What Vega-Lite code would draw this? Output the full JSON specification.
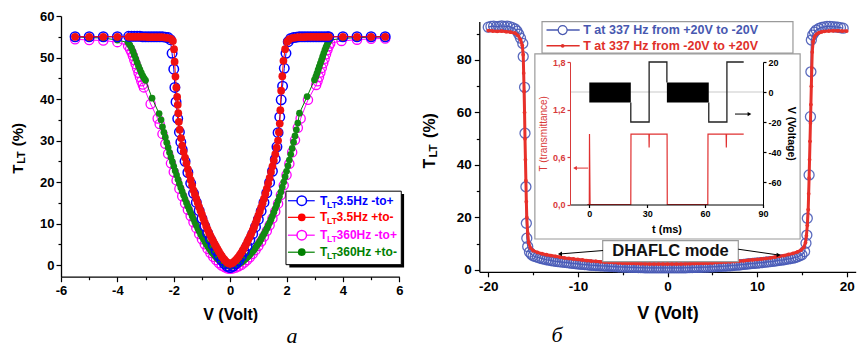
{
"$schema": "https://vega.github.io/schema/vega-lite/v6.json",
"width": 857, "height": 348, "autosize": "none", "padding": 0, "background": "white",
"config": {"view": {"stroke": null},
  "axis": {"grid": false, "labelFont": "Liberation Sans", "labelFontWeight": "bold", "labelColor": "black", "titleFont": "Liberation Sans", "titleFontWeight": "bold", "titleColor": "black", "domainColor": "black", "tickColor": "black", "labelFlush": false, "labelOverlap": false, "labelBound": false, "domainWidth": 1.3, "tickWidth": 1.2},
  "text": {"font": "Liberation Sans"}},
"datasets": {
"lb": [{"x":-5.5,"y":55},{"x":-5,"y":55},{"x":-4.5,"y":55},{"x":-4,"y":55},{"x":-3.6,"y":55.1},{"x":-3.5,"y":55.1},{"x":-3.4,"y":55.1},{"x":-3.3,"y":55.1},{"x":-3.2,"y":55.1},{"x":-3.1,"y":55},{"x":-3,"y":55},{"x":-2.9,"y":55},{"x":-2.8,"y":55},{"x":-2.7,"y":55},{"x":-2.6,"y":55},{"x":-2.5,"y":55},{"x":-2.4,"y":55},{"x":-2.3,"y":54.9},{"x":-2.2,"y":54.8},{"x":-2.12,"y":54.3},{"x":-2.06,"y":51},{"x":-2,"y":47.2},{"x":-1.96,"y":42.8},{"x":-1.92,"y":39.3},{"x":-1.86,"y":35.3},{"x":-1.8,"y":32},{"x":-1.75,"y":29.6},{"x":-1.7,"y":27.8},{"x":-1.6,"y":25},{"x":-1.5,"y":22.3},{"x":-1.4,"y":19.7},{"x":-1.3,"y":17.3},{"x":-1.2,"y":15.1},{"x":-1.1,"y":13.1},{"x":-1,"y":11.2},{"x":-0.9,"y":9.4},{"x":-0.8,"y":7.7},{"x":-0.7,"y":6.2},{"x":-0.6,"y":4.8},{"x":-0.5,"y":3.5},{"x":-0.4,"y":2.3},{"x":-0.3,"y":1.2},{"x":-0.2,"y":0.3},{"x":-0.1,"y":-0.3},{"x":0,"y":-0.6},{"x":0.1,"y":-0.3},{"x":0.2,"y":0.3},{"x":0.3,"y":1.1},{"x":0.4,"y":2.1},{"x":0.5,"y":3.3},{"x":0.6,"y":4.6},{"x":0.7,"y":6},{"x":0.8,"y":7.5},{"x":0.9,"y":9.2},{"x":1,"y":11},{"x":1.1,"y":13},{"x":1.2,"y":15.1},{"x":1.3,"y":17.4},{"x":1.4,"y":19.9},{"x":1.5,"y":22.6},{"x":1.6,"y":25.5},{"x":1.66,"y":28.5},{"x":1.7,"y":31.9},{"x":1.76,"y":35.7},{"x":1.81,"y":39.8},{"x":1.86,"y":43.1},{"x":1.92,"y":47.4},{"x":1.98,"y":51},{"x":2.06,"y":53.8},{"x":2.15,"y":54.6},{"x":2.25,"y":54.8},{"x":2.35,"y":54.9},{"x":2.45,"y":55},{"x":2.55,"y":55},{"x":2.65,"y":55},{"x":2.75,"y":55},{"x":2.85,"y":55},{"x":2.95,"y":55},{"x":3.05,"y":55},{"x":3.15,"y":55},{"x":3.25,"y":55},{"x":3.35,"y":55},{"x":3.45,"y":55},{"x":3.5,"y":55},{"x":4,"y":55},{"x":4.5,"y":55},{"x":5,"y":55},{"x":5.5,"y":55}],
"lr": [{"x":-5.5,"y":55},{"x":-5,"y":55},{"x":-4.5,"y":55},{"x":-4,"y":55},{"x":-3.6,"y":55},{"x":-3.5,"y":55},{"x":-3.4,"y":55},{"x":-3.3,"y":55},{"x":-3.2,"y":55},{"x":-3.1,"y":55},{"x":-3,"y":55},{"x":-2.9,"y":54.9},{"x":-2.8,"y":54.9},{"x":-2.7,"y":54.9},{"x":-2.6,"y":54.9},{"x":-2.5,"y":54.9},{"x":-2.4,"y":54.9},{"x":-2.3,"y":54.8},{"x":-2.2,"y":54.7},{"x":-2.1,"y":54.5},{"x":-2.03,"y":54},{"x":-1.99,"y":52},{"x":-1.97,"y":49},{"x":-1.94,"y":45.4},{"x":-1.91,"y":42.8},{"x":-1.88,"y":40.5},{"x":-1.86,"y":38.6},{"x":-1.84,"y":36.6},{"x":-1.82,"y":34.5},{"x":-1.79,"y":32.6},{"x":-1.74,"y":30.6},{"x":-1.7,"y":28.8},{"x":-1.65,"y":27.3},{"x":-1.6,"y":25.9},{"x":-1.55,"y":24.5},{"x":-1.5,"y":23.1},{"x":-1.45,"y":21.8},{"x":-1.4,"y":20.5},{"x":-1.35,"y":19.2},{"x":-1.3,"y":18},{"x":-1.25,"y":17},{"x":-1.2,"y":16},{"x":-1.15,"y":15},{"x":-1.1,"y":14},{"x":-1.05,"y":13.1},{"x":-1,"y":12.2},{"x":-0.95,"y":11.2},{"x":-0.9,"y":10.3},{"x":-0.85,"y":9.4},{"x":-0.8,"y":8.6},{"x":-0.75,"y":7.8},{"x":-0.7,"y":7.1},{"x":-0.65,"y":6.4},{"x":-0.6,"y":5.8},{"x":-0.55,"y":5.1},{"x":-0.5,"y":4.5},{"x":-0.45,"y":3.9},{"x":-0.4,"y":3.3},{"x":-0.35,"y":2.7},{"x":-0.3,"y":2.2},{"x":-0.25,"y":1.7},{"x":-0.2,"y":1.3},{"x":-0.15,"y":0.9},{"x":-0.1,"y":0.6},{"x":-0.05,"y":0.4},{"x":0,"y":0.3},{"x":0.05,"y":0.4},{"x":0.1,"y":0.6},{"x":0.15,"y":0.9},{"x":0.2,"y":1.2},{"x":0.25,"y":1.6},{"x":0.3,"y":2},{"x":0.35,"y":2.5},{"x":0.4,"y":3},{"x":0.45,"y":3.6},{"x":0.5,"y":4.2},{"x":0.55,"y":4.8},{"x":0.6,"y":5.5},{"x":0.65,"y":6.2},{"x":0.7,"y":6.9},{"x":0.75,"y":7.6},{"x":0.8,"y":8.4},{"x":0.85,"y":9.2},{"x":0.9,"y":10.1},{"x":0.95,"y":11},{"x":1,"y":12},{"x":1.05,"y":12.9},{"x":1.1,"y":13.9},{"x":1.15,"y":14.9},{"x":1.2,"y":16},{"x":1.25,"y":17.2},{"x":1.3,"y":18.4},{"x":1.35,"y":19.7},{"x":1.4,"y":21},{"x":1.45,"y":22.4},{"x":1.5,"y":23.8},{"x":1.55,"y":25.2},{"x":1.6,"y":26.7},{"x":1.65,"y":28.3},{"x":1.7,"y":30},{"x":1.73,"y":32},{"x":1.76,"y":34.1},{"x":1.78,"y":37.3},{"x":1.81,"y":42},{"x":1.85,"y":45.5},{"x":1.89,"y":49.2},{"x":1.95,"y":52},{"x":2.02,"y":53.8},{"x":2.1,"y":54.4},{"x":2.2,"y":54.7},{"x":2.3,"y":54.8},{"x":2.4,"y":54.9},{"x":2.5,"y":54.9},{"x":2.6,"y":54.9},{"x":2.7,"y":55},{"x":2.8,"y":55},{"x":2.9,"y":55},{"x":3,"y":55},{"x":3.1,"y":55},{"x":3.2,"y":55},{"x":3.3,"y":55},{"x":3.4,"y":55},{"x":3.5,"y":55},{"x":4,"y":55},{"x":4.5,"y":55},{"x":5,"y":55},{"x":5.5,"y":55}],
"lg": [{"x":-5.5,"y":55},{"x":-5,"y":54.8},{"x":-4.5,"y":54.7},{"x":-4,"y":54.2},{"x":-3.62,"y":53.6},{"x":-3.56,"y":53},{"x":-3.5,"y":52.3},{"x":-3.45,"y":51.5},{"x":-3.4,"y":50.6},{"x":-3.35,"y":49.7},{"x":-3.3,"y":48.8},{"x":-3.25,"y":47.9},{"x":-3.2,"y":47.1},{"x":-3.15,"y":46.3},{"x":-3.1,"y":45.6},{"x":-3.05,"y":45},{"x":-3,"y":44.5},{"x":-2.77,"y":40.2},{"x":-2.52,"y":36.5},{"x":-2.45,"y":35},{"x":-2.4,"y":33.3},{"x":-2.35,"y":32},{"x":-2.3,"y":30.8},{"x":-2.25,"y":29.5},{"x":-2.2,"y":28.3},{"x":-2.15,"y":27.1},{"x":-2.1,"y":26},{"x":-2.05,"y":24.9},{"x":-2,"y":23.8},{"x":-1.95,"y":22.7},{"x":-1.9,"y":21.7},{"x":-1.85,"y":20.6},{"x":-1.8,"y":19.6},{"x":-1.75,"y":18.6},{"x":-1.7,"y":17.7},{"x":-1.65,"y":16.8},{"x":-1.6,"y":15.9},{"x":-1.55,"y":15},{"x":-1.5,"y":14.2},{"x":-1.45,"y":13.4},{"x":-1.4,"y":12.6},{"x":-1.35,"y":11.8},{"x":-1.3,"y":11.1},{"x":-1.25,"y":10.3},{"x":-1.2,"y":9.6},{"x":-1.15,"y":8.9},{"x":-1.1,"y":8.2},{"x":-1.05,"y":7.5},{"x":-1,"y":6.9},{"x":-0.95,"y":6.3},{"x":-0.9,"y":5.7},{"x":-0.85,"y":5.1},{"x":-0.8,"y":4.6},{"x":-0.75,"y":4.1},{"x":-0.7,"y":3.6},{"x":-0.65,"y":3.1},{"x":-0.6,"y":2.7},{"x":-0.55,"y":2.3},{"x":-0.5,"y":1.9},{"x":-0.45,"y":1.5},{"x":-0.4,"y":1.2},{"x":-0.35,"y":0.9},{"x":-0.3,"y":0.6},{"x":-0.25,"y":0.4},{"x":-0.2,"y":0.2},{"x":-0.15,"y":0},{"x":-0.1,"y":-0.1},{"x":-0.05,"y":-0.2},{"x":0,"y":-0.2},{"x":0.05,"y":-0.2},{"x":0.1,"y":-0.2},{"x":0.15,"y":-0.1},{"x":0.2,"y":0},{"x":0.25,"y":0.1},{"x":0.3,"y":0.3},{"x":0.35,"y":0.5},{"x":0.4,"y":0.7},{"x":0.45,"y":0.9},{"x":0.5,"y":1.2},{"x":0.55,"y":1.5},{"x":0.6,"y":1.8},{"x":0.65,"y":2.1},{"x":0.7,"y":2.5},{"x":0.75,"y":2.9},{"x":0.8,"y":3.3},{"x":0.85,"y":3.7},{"x":0.9,"y":4.2},{"x":0.95,"y":4.7},{"x":1,"y":5.2},{"x":1.05,"y":5.7},{"x":1.1,"y":6.3},{"x":1.15,"y":6.9},{"x":1.2,"y":7.5},{"x":1.25,"y":8.1},{"x":1.3,"y":8.8},{"x":1.35,"y":9.5},{"x":1.4,"y":10.2},{"x":1.45,"y":11},{"x":1.5,"y":11.8},{"x":1.55,"y":12.7},{"x":1.6,"y":13.6},{"x":1.65,"y":14.5},{"x":1.7,"y":15.5},{"x":1.75,"y":16.5},{"x":1.8,"y":17.6},{"x":1.85,"y":18.8},{"x":1.9,"y":20},{"x":1.95,"y":21.3},{"x":2,"y":22.6},{"x":2.05,"y":23.9},{"x":2.1,"y":25.3},{"x":2.15,"y":26.7},{"x":2.2,"y":28.1},{"x":2.25,"y":29.6},{"x":2.3,"y":31.1},{"x":2.35,"y":32.6},{"x":2.4,"y":34.2},{"x":2.46,"y":36.6},{"x":2.73,"y":40.6},{"x":2.99,"y":44.6},{"x":3.04,"y":45.4},{"x":3.08,"y":46.2},{"x":3.12,"y":47},{"x":3.16,"y":47.8},{"x":3.2,"y":48.6},{"x":3.24,"y":49.4},{"x":3.28,"y":50.2},{"x":3.32,"y":51},{"x":3.36,"y":51.8},{"x":3.4,"y":52.5},{"x":3.44,"y":53.1},{"x":3.48,"y":53.7},{"x":3.53,"y":54.2},{"x":4,"y":54.6},{"x":4.5,"y":54.8},{"x":5,"y":54.9},{"x":5.5,"y":55}],
"lm": [{"x":-5.5,"y":54.4},{"x":-5,"y":54.2},{"x":-4.5,"y":54.1},{"x":-4,"y":53.7},{"x":-3.62,"y":52.8},{"x":-3.55,"y":52},{"x":-3.5,"y":51.3},{"x":-3.45,"y":50.4},{"x":-3.4,"y":49.4},{"x":-3.35,"y":48.4},{"x":-3.3,"y":47.4},{"x":-3.25,"y":46.3},{"x":-3.2,"y":45.3},{"x":-3.15,"y":44.3},{"x":-3.1,"y":43.5},{"x":-3.06,"y":42.8},{"x":-2.82,"y":38.8},{"x":-2.57,"y":35.3},{"x":-2.5,"y":34},{"x":-2.4,"y":31.6},{"x":-2.3,"y":29.2},{"x":-2.2,"y":26.8},{"x":-2.1,"y":24.5},{"x":-2,"y":22.4},{"x":-1.9,"y":20.4},{"x":-1.8,"y":18.4},{"x":-1.7,"y":16.6},{"x":-1.6,"y":14.9},{"x":-1.5,"y":13.3},{"x":-1.4,"y":11.8},{"x":-1.3,"y":10.3},{"x":-1.2,"y":8.9},{"x":-1.1,"y":7.5},{"x":-1,"y":6.2},{"x":-0.9,"y":5},{"x":-0.8,"y":3.9},{"x":-0.7,"y":2.9},{"x":-0.6,"y":2},{"x":-0.5,"y":1.2},{"x":-0.4,"y":0.5},{"x":-0.3,"y":-0.1},{"x":-0.2,"y":-0.5},{"x":-0.1,"y":-0.8},{"x":0,"y":-0.9},{"x":0.1,"y":-0.8},{"x":0.2,"y":-0.6},{"x":0.3,"y":-0.3},{"x":0.4,"y":0.1},{"x":0.5,"y":0.6},{"x":0.6,"y":1.2},{"x":0.7,"y":1.9},{"x":0.8,"y":2.7},{"x":0.9,"y":3.6},{"x":1,"y":4.6},{"x":1.1,"y":5.7},{"x":1.2,"y":6.9},{"x":1.3,"y":8.2},{"x":1.4,"y":9.6},{"x":1.5,"y":11.2},{"x":1.6,"y":12.9},{"x":1.7,"y":14.8},{"x":1.8,"y":16.9},{"x":1.9,"y":19.2},{"x":2,"y":21.7},{"x":2.1,"y":24.4},{"x":2.2,"y":27.2},{"x":2.3,"y":30.1},{"x":2.4,"y":33.1},{"x":2.5,"y":35.3},{"x":2.76,"y":39.8},{"x":3.05,"y":43.4},{"x":3.1,"y":44.3},{"x":3.15,"y":45.3},{"x":3.2,"y":46.4},{"x":3.25,"y":47.5},{"x":3.3,"y":48.6},{"x":3.35,"y":49.7},{"x":3.4,"y":50.8},{"x":3.45,"y":51.8},{"x":3.5,"y":52.7},{"x":3.55,"y":53.4},{"x":3.95,"y":54},{"x":4.5,"y":54.3},{"x":5,"y":54.5},{"x":5.5,"y":54.6}],
"rb": [{"x":-20,"y":92.5},{"x":-19.7,"y":92.8},{"x":-19.4,"y":92.9},{"x":-19.1,"y":92.7},{"x":-18.8,"y":92.8},{"x":-18.5,"y":93},{"x":-18.2,"y":92.8},{"x":-17.9,"y":92.9},{"x":-17.6,"y":92.7},{"x":-17.3,"y":92.3},{"x":-17,"y":91.8},{"x":-16.8,"y":91},{"x":-16.6,"y":89.8},{"x":-16.4,"y":88.3},{"x":-16.15,"y":86.3},{"x":-16.1,"y":81.3},{"x":-15.95,"y":69.6},{"x":-15.9,"y":52.1},{"x":-15.8,"y":31.7},{"x":-15.75,"y":17.8},{"x":-15.7,"y":12.1},{"x":-15.6,"y":8.9},{"x":-15.4,"y":6.8},{"x":-15.2,"y":6},{"x":-15,"y":5.4},{"x":-14.75,"y":5.1},{"x":-14.5,"y":4.8},{"x":-14.25,"y":4.55},{"x":-14,"y":4.3},{"x":-13.75,"y":4.1},{"x":-13.5,"y":3.9},{"x":-13.25,"y":3.75},{"x":-13,"y":3.6},{"x":-12.75,"y":3.45},{"x":-12.5,"y":3.3},{"x":-12.25,"y":3.2},{"x":-12,"y":3.1},{"x":-11.75,"y":3},{"x":-11.5,"y":2.9},{"x":-11.25,"y":2.8},{"x":-11,"y":2.7},{"x":-10.75,"y":2.6},{"x":-10.5,"y":2.5},{"x":-10.25,"y":2.4},{"x":-10,"y":2.3},{"x":-9.75,"y":2.2},{"x":-9.5,"y":2.1},{"x":-9.25,"y":2.05},{"x":-9,"y":2},{"x":-8.75,"y":1.9},{"x":-8.5,"y":1.8},{"x":-8.25,"y":1.75},{"x":-8,"y":1.7},{"x":-7.75,"y":1.65},{"x":-7.5,"y":1.6},{"x":-7.25,"y":1.55},{"x":-7,"y":1.5},{"x":-6.75,"y":1.45},{"x":-6.5,"y":1.4},{"x":-6.25,"y":1.35},{"x":-6,"y":1.3},{"x":-5.75,"y":1.25},{"x":-5.5,"y":1.2},{"x":-5.25,"y":1.15},{"x":-5,"y":1.1},{"x":-4.75,"y":1.08},{"x":-4.5,"y":1.05},{"x":-4.25,"y":1.02},{"x":-4,"y":1},{"x":-3.75,"y":0.97},{"x":-3.5,"y":0.95},{"x":-3.25,"y":0.92},{"x":-3,"y":0.9},{"x":-2.75,"y":0.87},{"x":-2.5,"y":0.85},{"x":-2.25,"y":0.82},{"x":-2,"y":0.8},{"x":-1.75,"y":0.8},{"x":-1.5,"y":0.8},{"x":-1.25,"y":0.8},{"x":-1,"y":0.8},{"x":-0.75,"y":0.8},{"x":-0.5,"y":0.8},{"x":-0.25,"y":0.8},{"x":0,"y":0.8},{"x":0.25,"y":0.8},{"x":0.5,"y":0.8},{"x":0.75,"y":0.8},{"x":1,"y":0.8},{"x":1.25,"y":0.8},{"x":1.5,"y":0.8},{"x":1.75,"y":0.82},{"x":2,"y":0.85},{"x":2.25,"y":0.87},{"x":2.5,"y":0.9},{"x":2.75,"y":0.92},{"x":3,"y":0.95},{"x":3.25,"y":0.97},{"x":3.5,"y":1},{"x":3.75,"y":1.02},{"x":4,"y":1.05},{"x":4.25,"y":1.08},{"x":4.5,"y":1.1},{"x":4.75,"y":1.15},{"x":5,"y":1.2},{"x":5.25,"y":1.25},{"x":5.5,"y":1.3},{"x":5.75,"y":1.35},{"x":6,"y":1.4},{"x":6.25,"y":1.45},{"x":6.5,"y":1.5},{"x":6.75,"y":1.55},{"x":7,"y":1.6},{"x":7.25,"y":1.7},{"x":7.5,"y":1.8},{"x":7.75,"y":1.85},{"x":8,"y":1.9},{"x":8.25,"y":2},{"x":8.5,"y":2.1},{"x":8.75,"y":2.2},{"x":9,"y":2.3},{"x":9.25,"y":2.4},{"x":9.5,"y":2.5},{"x":9.75,"y":2.55},{"x":10,"y":2.6},{"x":10.25,"y":2.7},{"x":10.5,"y":2.8},{"x":10.75,"y":2.9},{"x":11,"y":3},{"x":11.25,"y":3.1},{"x":11.5,"y":3.2},{"x":11.75,"y":3.3},{"x":12,"y":3.4},{"x":12.25,"y":3.55},{"x":12.5,"y":3.7},{"x":12.75,"y":3.8},{"x":13,"y":3.9},{"x":13.25,"y":4.05},{"x":13.5,"y":4.2},{"x":13.75,"y":4.35},{"x":14,"y":4.5},{"x":14.25,"y":4.75},{"x":14.5,"y":5},{"x":14.75,"y":5.4},{"x":15,"y":5.8},{"x":15.3,"y":7},{"x":15.45,"y":10.2},{"x":15.55,"y":13.3},{"x":15.6,"y":19.7},{"x":15.8,"y":36.2},{"x":15.95,"y":58.4},{"x":16,"y":75.5},{"x":16.05,"y":87.6},{"x":16.2,"y":89.5},{"x":16.4,"y":90.6},{"x":16.6,"y":91.4},{"x":16.9,"y":92},{"x":17.2,"y":92.4},{"x":17.5,"y":92.6},{"x":17.8,"y":92.8},{"x":18.1,"y":92.8},{"x":18.4,"y":92.7},{"x":18.7,"y":92.6},{"x":19,"y":92.5},{"x":19.3,"y":92.3},{"x":19.6,"y":92.1}],
"rr": [{"x":-20,"y":91.2},{"x":-19.5,"y":91},{"x":-19,"y":90.9},{"x":-18.5,"y":91},{"x":-18,"y":90.8},{"x":-17.5,"y":90.6},{"x":-17,"y":90.2},{"x":-16.7,"y":89.4},{"x":-16.4,"y":87.8},{"x":-16.2,"y":85.5},{"x":-16.1,"y":82},{"x":-16.05,"y":75},{"x":-16,"y":68},{"x":-15.95,"y":60},{"x":-15.9,"y":50},{"x":-15.85,"y":42},{"x":-15.8,"y":34},{"x":-15.75,"y":26},{"x":-15.7,"y":20},{"x":-15.6,"y":14},{"x":-15.5,"y":10.5},{"x":-15.3,"y":8.4},{"x":-15,"y":7.4},{"x":-14.5,"y":6.7},{"x":-14,"y":6.2},{"x":-13.5,"y":5.8},{"x":-13,"y":5.5},{"x":-12.5,"y":5.2},{"x":-12,"y":4.9},{"x":-11.5,"y":4.6},{"x":-11,"y":4.4},{"x":-10.5,"y":4.2},{"x":-10,"y":4},{"x":-9.5,"y":3.8},{"x":-9,"y":3.6},{"x":-8.5,"y":3.4},{"x":-8,"y":3.3},{"x":-7.5,"y":3.1},{"x":-7,"y":3},{"x":-6.5,"y":2.9},{"x":-6,"y":2.8},{"x":-5.5,"y":2.7},{"x":-5,"y":2.6},{"x":-4.5,"y":2.55},{"x":-4,"y":2.5},{"x":-3.5,"y":2.45},{"x":-3,"y":2.4},{"x":-2.5,"y":2.35},{"x":-2,"y":2.3},{"x":-1.5,"y":2.3},{"x":-1,"y":2.3},{"x":-0.5,"y":2.3},{"x":0,"y":2.3},{"x":0.5,"y":2.3},{"x":1,"y":2.3},{"x":1.5,"y":2.3},{"x":2,"y":2.35},{"x":2.5,"y":2.4},{"x":3,"y":2.45},{"x":3.5,"y":2.5},{"x":4,"y":2.55},{"x":4.5,"y":2.6},{"x":5,"y":2.7},{"x":5.5,"y":2.8},{"x":6,"y":2.9},{"x":6.5,"y":3},{"x":7,"y":3.1},{"x":7.5,"y":3.2},{"x":8,"y":3.4},{"x":8.5,"y":3.5},{"x":9,"y":3.7},{"x":9.5,"y":3.85},{"x":10,"y":4},{"x":10.5,"y":4.2},{"x":11,"y":4.4},{"x":11.5,"y":4.6},{"x":12,"y":4.9},{"x":12.5,"y":5.2},{"x":13,"y":5.5},{"x":13.5,"y":5.9},{"x":14,"y":6.3},{"x":14.5,"y":6.9},{"x":14.9,"y":7.6},{"x":15.2,"y":8.6},{"x":15.4,"y":10.5},{"x":15.5,"y":13},{"x":15.6,"y":17},{"x":15.7,"y":23},{"x":15.75,"y":29},{"x":15.8,"y":35},{"x":15.85,"y":42},{"x":15.9,"y":49},{"x":15.95,"y":56},{"x":16,"y":63},{"x":16.05,"y":70},{"x":16.1,"y":77},{"x":16.15,"y":83},{"x":16.25,"y":87},{"x":16.4,"y":88.8},{"x":16.6,"y":89.8},{"x":16.9,"y":90.4},{"x":17.2,"y":90.7},{"x":17.5,"y":90.9},{"x":18,"y":91},{"x":18.5,"y":91.1},{"x":19,"y":91.1},{"x":19.5,"y":91},{"x":20,"y":91}],
"legA_box": [{"x":1.98,"x2":6.07,"y":0.1,"y2":17.8}],
"legA_shadow": [{"x":2.1,"x2":6.17,"y":-0.6,"y2":17.1}],
"legA_line": [{"s":"b","x":2.05,"x2":3.0,"y":15.5},{"s":"r","x":2.05,"x2":3.0,"y":11.5},{"s":"m","x":2.05,"x2":3.0,"y":7.2},{"s":"g","x":2.05,"x2":3.0,"y":3.1}],
"legA_sym": [{"s":"b","x":2.54,"y":15.5},{"s":"r","x":2.54,"y":11.5},{"s":"m","x":2.54,"y":7.2},{"s":"g","x":2.54,"y":3.1}],
"legA_txt": [{"s":"b","x":3.19,"y":15.5,"lab":"3.5Hz -to+"},{"s":"r","x":3.19,"y":11.5,"lab":"3.5Hz +to-"},{"s":"m","x":3.19,"y":7.2,"lab":"360Hz -to+"},{"s":"g","x":3.19,"y":3.1,"lab":"360Hz +to-"}],
"ttlA_big": [{"x":-7.52,"y":22.0,"lab":"T"},{"x":-7.52,"y":28.6,"lab":"(%)"}],
"ttlA_sub": [{"x":-7.39,"y":24.4,"lab":"LT"}],
"tagA": [{"x":2.19,"y":-19.9,"lab":"a"}],
"boxB": [{"x":-14.0,"x2":14.0,"y":82.6,"y2":94.6},{"x":-14.8,"x2":14.8,"y":11.8,"y2":82.3},{"x":-7.23,"x2":7.9,"y":3.2,"y2":11.2}],
"legB_line": [{"s":"B","x":-13.5,"x2":-9.8,"y":91.4},{"s":"R","x":-13.5,"x2":-9.8,"y":85.4}],
"legB_symB": [{"x":-11.7,"y":91.4}],
"legB_symR": [{"x":-11.7,"y":85.4}],
"legB_txt": [{"s":"B","x":-9.4,"y":91.4,"lab":"T at 337 Hz from +20V to -20V"},{"s":"R","x":-9.4,"y":85.4,"lab":"T at 337 Hz from -20V to +20V"}],
"modeB": [{"x":0.33,"y":7.2,"lab":"DHAFLC mode"}],
"arrB": [{"x":-7.2,"x2":-12.0,"y":7.4,"y2":6.1},{"x":7.9,"x2":12.4,"y":7.9,"y2":5.7}],
"headB": [{"x":-12.0,"y":6.1,"d":"l"},{"x":12.4,"y":5.7,"d":"r"}],
"ttlB_big": [{"x":-26.5,"y":38.7,"lab":"T"},{"x":-26.5,"y":50.3,"lab":"(%)"}],
"ttlB_sub": [{"x":-26.06,"y":42.8,"lab":"LT"}],
"tagB": [{"x":-12.33,"y":-29.5,"lab":"б"}],
"iv_block": [{"x":0,"x2":21.5,"y":-7,"y2":6.3},{"x":40.2,"x2":61.9,"y":-7,"y2":6.3}],
"iv_zero": [{"x":-10,"x2":90,"y":0}],
"iv_line": [{"g":1,"x":21.5,"y":-7},{"g":1,"x":21.5,"y":-20},{"g":1,"x":31,"y":-20},{"g":1,"x":31,"y":20},{"g":1,"x":40.2,"y":20},{"g":1,"x":40.2,"y":6.3},{"g":2,"x":61.9,"y":-7},{"g":2,"x":61.9,"y":-20},{"g":2,"x":71.3,"y":-20},{"g":2,"x":71.3,"y":20},{"g":2,"x":80,"y":20}],
"iv_arr": [{"x":75.5,"x2":83,"y":-14.7}],
"iv_head": [{"x":83,"y":-14.7,"d":"r"}],
"it_line": [{"x":-1,"y":0},{"x":0,"y":0},{"x":0.1,"y":0.89},{"x":0.4,"y":0},{"x":21.5,"y":0},{"x":21.6,"y":0.89},{"x":30.9,"y":0.89},{"x":31,"y":0.72},{"x":31.1,"y":0.89},{"x":40.3,"y":0.89},{"x":40.4,"y":0},{"x":61.4,"y":0},{"x":61.5,"y":0.89},{"x":70.9,"y":0.89},{"x":71,"y":0.72},{"x":71.1,"y":0.89},{"x":80,"y":0.89}],
"it_arr": [{"x":-0.6,"x2":-7.4,"y":0.46}],
"it_head": [{"x":-7.4,"y":0.46,"d":"l"}]
},
"layer": [
{
"encoding": {
 "x": {"field": "x", "type": "quantitative", "scale": {"domain": [-6, 6], "range": [61, 399.3], "nice": false, "zero": false},
   "axis": {"orient": "bottom", "offset": -71.3, "values": [-6,-5,-4,-3,-2,-1,0,1,2,3,4,5,6], "labelExpr": "datum.value % 2 === 0 ? '' + datum.value : ''", "tickSize": {"condition": {"test": "datum.value % 2 === 0", "value": 5}, "value": 3}, "title": "V (Volt)", "titleFontSize": 16, "labelFontSize": 13, "labelPadding": 3, "titlePadding": 9}},
 "y": {"field": "y", "type": "quantitative", "scale": {"domain": [-2.8, 60], "range": [276.7, 16], "nice": false, "zero": false},
   "axis": {"orient": "left", "offset": -61, "values": [0,5,10,15,20,25,30,35,40,45,50,55,60], "labelExpr": "datum.value % 10 === 0 ? '' + datum.value : ''", "tickSize": {"condition": {"test": "datum.value % 10 === 0", "value": 5}, "value": 3}, "title": null, "labelFontSize": 13, "labelPadding": 2}}
},
"layer": [
 {"data": {"name": "lm"}, "mark": {"type": "line", "color": "#ff00ff", "strokeWidth": 1}, "encoding": {"order": {"value": null}}},
 {"data": {"name": "lm"}, "mark": {"type": "point", "shape": "circle", "filled": false, "color": "#ff00ff", "size": 85, "strokeWidth": 1.3, "opacity": 1}},
 {"data": {"name": "lg"}, "mark": {"type": "line", "color": "#008000", "strokeWidth": 1}, "encoding": {"order": {"value": null}}},
 {"data": {"name": "lg"}, "mark": {"type": "point", "shape": "circle", "filled": true, "color": "#138a13", "size": 45, "opacity": 1}},
 {"data": {"name": "lb"}, "mark": {"type": "line", "color": "#0000ff", "strokeWidth": 1}, "encoding": {"order": {"value": null}}},
 {"data": {"name": "lb"}, "mark": {"type": "point", "shape": "circle", "filled": false, "color": "#0000ff", "size": 90, "strokeWidth": 1.5, "opacity": 1}},
 {"data": {"name": "lr"}, "mark": {"type": "line", "color": "#ff0000", "strokeWidth": 1}, "encoding": {"order": {"value": null}}},
 {"data": {"name": "lr"}, "mark": {"type": "point", "shape": "circle", "filled": true, "color": "#f01010", "size": 60, "opacity": 1}},
 {"data": {"name": "legA_shadow"}, "mark": {"type": "rect", "color": "black"}, "encoding": {"x2": {"field": "x2"}, "y2": {"field": "y2"}}},
 {"data": {"name": "legA_box"}, "mark": {"type": "rect", "fill": "white", "stroke": "black", "strokeWidth": 1}, "encoding": {"x2": {"field": "x2"}, "y2": {"field": "y2"}}},
 {"data": {"name": "legA_line"}, "mark": {"type": "rule", "strokeWidth": 1.2}, "encoding": {"x2": {"field": "x2"}, "color": {"field": "s", "type": "nominal", "scale": {"domain": ["b","r","m","g","B","R"], "range": ["#0000ff","#ff0000","#ff00ff","#008000","#4858b0","#e0302a"]}, "legend": null}}},
 {"data": {"name": "legA_sym"}, "transform": [{"filter": "datum.s === 'b' || datum.s === 'm'"}], "mark": {"type": "point", "shape": "circle", "filled": false, "fill": "white", "fillOpacity": 1, "size": 90, "strokeWidth": 1.5, "opacity": 1}, "encoding": {"stroke": {"field": "s", "type": "nominal", "scale": {"domain": ["b","r","m","g","B","R"], "range": ["#0000ff","#ff0000","#ff00ff","#008000","#4858b0","#e0302a"]}, "legend": null}}},
 {"data": {"name": "legA_sym"}, "transform": [{"filter": "datum.s === 'r' || datum.s === 'g'"}], "mark": {"type": "point", "shape": "circle", "filled": true, "size": 60, "opacity": 1}, "encoding": {"color": {"field": "s", "type": "nominal", "scale": {"domain": ["b","r","m","g","B","R"], "range": ["#0000ff","#ff0000","#ff00ff","#008000","#4858b0","#e0302a"]}, "legend": null}}},
 {"data": {"name": "legA_txt"}, "mark": {"type": "text", "text": "T", "align": "left", "baseline": "middle", "fontSize": 12, "fontWeight": "bold"}, "encoding": {"color": {"field": "s", "type": "nominal", "scale": {"domain": ["b","r","m","g","B","R"], "range": ["#0000ff","#ff0000","#ff00ff","#008000","#4858b0","#e0302a"]}, "legend": null}}},
 {"data": {"name": "legA_txt"}, "mark": {"type": "text", "text": "LT", "align": "left", "baseline": "middle", "fontSize": 8.5, "fontWeight": "bold", "dx": 7, "dy": 4}, "encoding": {"color": {"field": "s", "type": "nominal", "scale": {"domain": ["b","r","m","g","B","R"], "range": ["#0000ff","#ff0000","#ff00ff","#008000","#4858b0","#e0302a"]}, "legend": null}}},
 {"data": {"name": "legA_txt"}, "mark": {"type": "text", "align": "left", "baseline": "middle", "fontSize": 12, "fontWeight": "bold", "dx": 16.5}, "encoding": {"text": {"field": "lab"}, "color": {"field": "s", "type": "nominal", "scale": {"domain": ["b","r","m","g","B","R"], "range": ["#0000ff","#ff0000","#ff00ff","#008000","#4858b0","#e0302a"]}, "legend": null}}},
 {"data": {"name": "ttlA_big"}, "mark": {"type": "text", "angle": 270, "align": "left", "baseline": "middle", "fontSize": 15, "fontWeight": "bold", "color": "black"}, "encoding": {"text": {"field": "lab"}}},
 {"data": {"name": "ttlA_sub"}, "mark": {"type": "text", "angle": 270, "align": "left", "baseline": "middle", "fontSize": 11, "fontWeight": "bold", "color": "black"}, "encoding": {"text": {"field": "lab"}}},
 {"data": {"name": "tagA"}, "mark": {"type": "text", "align": "center", "baseline": "bottom", "fontSize": 22, "font": "Liberation Serif", "fontStyle": "italic", "color": "black"}, "encoding": {"text": {"field": "lab"}}}
]
},
{
"encoding": {
 "x": {"field": "x", "type": "quantitative", "scale": {"domain": [-21, 21], "range": [479.3, 855.7], "nice": false, "zero": false},
   "axis": {"orient": "bottom", "offset": -76.2, "values": [-20,-15,-10,-5,0,5,10,15,20], "labelExpr": "datum.value % 10 === 0 ? '' + datum.value : ''", "tickSize": {"condition": {"test": "datum.value % 10 === 0", "value": 5}, "value": 3}, "title": "V (Volt)", "titleFontSize": 18, "labelFontSize": 13.5, "labelPadding": 3, "titlePadding": 11}},
 "y": {"field": "y", "type": "quantitative", "scale": {"domain": [-0.7, 94.7], "range": [271.8, 21.4], "nice": false, "zero": false},
   "axis": {"orient": "left", "offset": -479.3, "values": [0,10,20,30,40,50,60,70,80,90], "labelExpr": "datum.value % 20 === 0 ? '' + datum.value : ''", "tickSize": {"condition": {"test": "datum.value % 20 === 0", "value": 5}, "value": 3}, "title": null, "labelFontSize": 13.5, "labelPadding": 3}}
},
"layer": [
 {"data": {"name": "rb"}, "mark": {"type": "line", "color": "#4a5cb8", "strokeWidth": 1.2}, "encoding": {"order": {"value": null}}},
 {"data": {"name": "rb"}, "mark": {"type": "point", "shape": "circle", "filled": false, "color": "#4a5cb8", "size": 100, "strokeWidth": 1.3, "opacity": 0.9}},
 {"data": {"name": "rr"}, "mark": {"type": "line", "color": "#e8302a", "strokeWidth": 3}, "encoding": {"order": {"value": null}}},
 {"data": {"name": "rr"}, "mark": {"type": "point", "shape": "circle", "filled": true, "color": "#e8302a", "size": 14, "opacity": 1}},
 {"data": {"name": "boxB"}, "mark": {"type": "rect", "fill": "white", "stroke": "#9a9a9a", "strokeWidth": 1.2}, "encoding": {"x2": {"field": "x2"}, "y2": {"field": "y2"}}},
 {"data": {"name": "legB_line"}, "mark": {"type": "rule", "strokeWidth": 1.5}, "encoding": {"x2": {"field": "x2"}, "color": {"field": "s", "type": "nominal", "scale": {"domain": ["b","r","m","g","B","R"], "range": ["#0000ff","#ff0000","#ff00ff","#008000","#4858b0","#e0302a"]}, "legend": null}}},
 {"data": {"name": "legB_symB"}, "mark": {"type": "point", "shape": "circle", "filled": false, "fill": "white", "fillOpacity": 1, "stroke": "#4858b0", "size": 80, "strokeWidth": 1.2, "opacity": 1}},
 {"data": {"name": "legB_symR"}, "mark": {"type": "point", "shape": "circle", "filled": true, "color": "#e0302a", "size": 14, "opacity": 1}},
 {"data": {"name": "legB_txt"}, "mark": {"type": "text", "align": "left", "baseline": "middle", "fontSize": 12.5, "fontWeight": "bold"}, "encoding": {"text": {"field": "lab"}, "color": {"field": "s", "type": "nominal", "scale": {"domain": ["b","r","m","g","B","R"], "range": ["#0000ff","#ff0000","#ff00ff","#008000","#4858b0","#e0302a"]}, "legend": null}}},
 {"data": {"name": "modeB"}, "mark": {"type": "text", "align": "center", "baseline": "middle", "fontSize": 16.5, "fontWeight": "bold", "color": "#111"}, "encoding": {"text": {"field": "lab"}}},
 {"data": {"name": "arrB"}, "mark": {"type": "rule", "color": "black", "strokeWidth": 1}, "encoding": {"x2": {"field": "x2"}, "y2": {"field": "y2"}}},
 {"data": {"name": "headB"}, "mark": {"type": "point", "filled": true, "color": "black", "size": 22, "opacity": 1}, "encoding": {"shape": {"field": "d", "type": "nominal", "scale": {"domain": ["l","r"], "range": ["triangle-left","triangle-right"]}, "legend": null}}},
 {"data": {"name": "ttlB_big"}, "mark": {"type": "text", "angle": 270, "align": "left", "baseline": "middle", "fontSize": 16, "fontWeight": "bold", "color": "black"}, "encoding": {"text": {"field": "lab"}}},
 {"data": {"name": "ttlB_sub"}, "mark": {"type": "text", "angle": 270, "align": "left", "baseline": "middle", "fontSize": 11.5, "fontWeight": "bold", "color": "black"}, "encoding": {"text": {"field": "lab"}}},
 {"data": {"name": "tagB"}, "mark": {"type": "text", "align": "center", "baseline": "bottom", "fontSize": 22, "font": "Liberation Serif", "fontStyle": "italic", "color": "black"}, "encoding": {"text": {"field": "lab"}}}
]
},
{
"layer": [
 {
 "encoding": {
  "x": {"field": "x", "type": "quantitative", "scale": {"domain": [-10, 90], "range": [570, 763], "nice": false, "zero": false},
    "axis": {"orient": "bottom", "offset": -143.5, "values": [0,30,60,90], "labelExpr": "'' + datum.value", "title": "t (ms)", "titleFontSize": 11, "labelFontSize": 9, "tickSize": 3, "labelPadding": 2, "titlePadding": 5, "zindex": 1, "domainWidth": 1}},
  "y": {"field": "y", "type": "quantitative", "scale": {"domain": [-75, 20], "range": [204.5, 62], "nice": false, "zero": false},
    "axis": {"orient": "right", "offset": -94, "values": [20,0,-20,-40,-60], "labelExpr": "'' + datum.value", "title": "V (Voltage)", "titleFontSize": 10.5, "labelFontSize": 9, "tickSize": 3, "labelPadding": 2, "titlePadding": 4, "zindex": 1, "domainWidth": 1}}
 },
 "layer": [
  {"data": {"name": "iv_zero"}, "mark": {"type": "rule", "color": "#bbbbbb", "strokeWidth": 0.8}, "encoding": {"x2": {"field": "x2"}}},
  {"data": {"name": "iv_block"}, "mark": {"type": "rect", "color": "black"}, "encoding": {"x2": {"field": "x2"}, "y2": {"field": "y2"}}},
  {"data": {"name": "iv_line"}, "mark": {"type": "line", "color": "#222", "strokeWidth": 1.3}, "encoding": {"detail": {"field": "g"}, "order": {"value": null}}},
  {"data": {"name": "iv_arr"}, "mark": {"type": "rule", "color": "black", "strokeWidth": 1}, "encoding": {"x2": {"field": "x2"}}},
  {"data": {"name": "iv_head"}, "mark": {"type": "point", "filled": true, "color": "black", "size": 18, "opacity": 1}, "encoding": {"shape": {"field": "d", "type": "nominal", "scale": {"domain": ["l","r"], "range": ["triangle-left","triangle-right"]}, "legend": null}}}
 ]
 },
 {
 "encoding": {
  "x": {"field": "x", "type": "quantitative", "scale": {"domain": [-10, 90], "range": [570, 763], "nice": false, "zero": false},
    "axis": {"orient": "bottom", "offset": -143.5, "values": [0,30,60,90], "labelExpr": "'' + datum.value", "title": "t (ms)", "titleFontSize": 11, "labelFontSize": 9, "tickSize": 3, "labelPadding": 2, "titlePadding": 5, "zindex": 1, "domainWidth": 1}},
  "y": {"field": "y", "type": "quantitative", "scale": {"domain": [0, 1.8], "range": [204.5, 62], "nice": false, "zero": false},
    "axis": {"orient": "left", "offset": -570, "values": [0,0.6,1.2,1.8], "labelExpr": "replace(format(datum.value, '.1f'), '.', ',')", "title": "T (transmittance)", "titleFontSize": 10, "titleFontWeight": "normal", "labelFontSize": 9, "labelColor": "#d83a3a", "titleColor": "#d83a3a", "domainColor": "#d83a3a", "tickColor": "#d83a3a", "tickSize": 3, "labelPadding": 2, "titlePadding": 4, "zindex": 1, "domainWidth": 1}}
 },
 "layer": [
  {"data": {"name": "it_line"}, "mark": {"type": "line", "color": "#e03030", "strokeWidth": 1.2}, "encoding": {"order": {"value": null}}},
  {"data": {"name": "it_arr"}, "mark": {"type": "rule", "color": "#e03030", "strokeWidth": 1}, "encoding": {"x2": {"field": "x2"}}},
  {"data": {"name": "it_head"}, "mark": {"type": "point", "filled": true, "color": "#e03030", "size": 18, "opacity": 1}, "encoding": {"shape": {"field": "d", "type": "nominal", "scale": {"domain": ["l","r"], "range": ["triangle-left","triangle-right"]}, "legend": null}}}
 ]
 }
],
"resolve": {"scale": {"y": "independent"}, "axis": {"y": "independent"}}
}
],
"resolve": {"scale": {"x": "independent", "y": "independent"}, "axis": {"x": "independent", "y": "independent"}}
}
